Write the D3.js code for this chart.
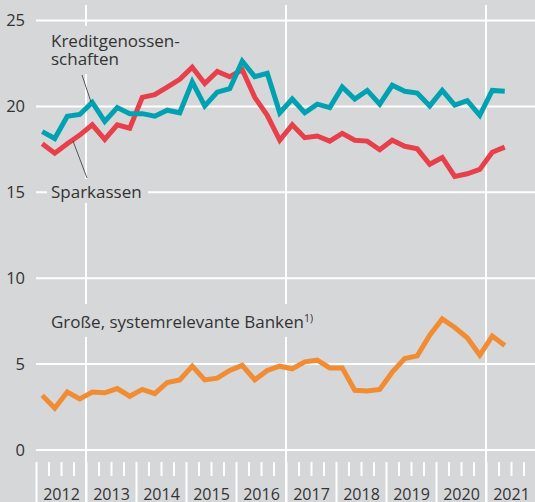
<!DOCTYPE html>
<html><head><meta charset="utf-8">
<script src="https://cdn.jsdelivr.net/npm/d3@7"></script>
<style>
html,body{margin:0;padding:0;background:#d6d7d9;}
svg{display:block;}
text{font-family:"Open Sans","Noto Sans",sans-serif;fill:#333;}
</style></head>
<body>
<svg id="c" width="535" height="502"></svg>
<script>
const years = [2012,2013,2014,2015,2016,2017,2018,2019,2020,2021];
const yTicks = [0,5,10,15,20,25];
const kreditgenossenschaften = [18.5,18.1,19.4,19.5,20.2,19.1,19.9,19.55,19.55,19.4,19.75,19.6,21.4,20.0,20.8,21.0,22.6,21.7,21.9,19.6,20.4,19.6,20.1,19.9,21.1,20.4,20.9,20.1,21.2,20.85,20.75,20.0,20.9,20.05,20.3,19.45,20.9,20.85];
const sparkassen = [17.8,17.25,17.8,18.3,18.9,18.05,18.9,18.7,20.5,20.65,21.1,21.55,22.25,21.3,22.0,21.7,22.1,20.5,19.45,18.0,18.9,18.15,18.25,17.95,18.4,18.0,17.95,17.45,18.0,17.65,17.5,16.6,17.0,15.9,16.05,16.3,17.3,17.6];
const grosseBanken = [3.15,2.4,3.35,2.95,3.35,3.3,3.55,3.1,3.5,3.25,3.9,4.05,4.85,4.05,4.15,4.6,4.9,4.05,4.6,4.85,4.7,5.1,5.2,4.75,4.75,3.45,3.4,3.5,4.5,5.3,5.45,6.65,7.6,7.1,6.5,5.5,6.6,6.05];
const gridYears = [2013,2017,2021];

const bg = "#d6d7d9";
const svg = d3.select("#c");
const x = d3.scaleLinear().domain([2012,2022]).range([36,536]);
const y = d3.scaleLinear().domain([0,25]).range([449.5,20]);
const t = i => 2012 + (i+0.5)/4;

svg.append("rect").attr("width",535).attr("height",502).attr("fill",bg);

// horizontal gridlines + y labels
const ya = svg.append("g").attr("transform","translate(36,0)")
  .call(d3.axisLeft(y).tickValues(yTicks).tickSize(-500).tickPadding(11));
ya.select(".domain").remove();
ya.selectAll("line").attr("stroke","#fff").attr("stroke-width",2);
ya.selectAll("text").style("font-size","16.5px").attr("fill","#333").attr("dy","0.35em");

// vertical gridlines
svg.append("g").selectAll("line").data(gridYears).join("line")
  .attr("x1",d=>x(d)).attr("x2",d=>x(d)).attr("y1",5).attr("y2",502)
  .attr("stroke","#fff").attr("stroke-width",2);

// quarterly ticks
const quarters = d3.range(2012,2022,0.25).filter(q=>q%1!==0);
const qa = svg.append("g").attr("transform","translate(0,462)")
  .call(d3.axisBottom(x).tickValues(quarters).tickSize(14).tickFormat(""));
qa.select(".domain").remove();
qa.selectAll("line").attr("stroke","#fff").attr("stroke-width",2);
// year boundary ticks
const ba = svg.append("g").attr("transform","translate(0,462)")
  .call(d3.axisBottom(x).tickValues(years).tickSize(40).tickFormat(""));
ba.select(".domain").remove();
ba.selectAll("line").attr("stroke","#fff").attr("stroke-width",2);
// year labels
const la = svg.append("g").attr("transform","translate(0,487)")
  .call(d3.axisBottom(x).tickValues(years.map(v=>v+0.5)).tickSize(0).tickPadding(0).tickFormat(d=>String(Math.floor(d))));
la.select(".domain").remove();
la.selectAll("text").style("font-size","16px").attr("fill","#333").attr("dy","0.8em");

// label backgrounds
svg.append("rect").attr("x",47).attr("y",26).attr("width",150).attr("height",48).attr("fill",bg);
svg.append("rect").attr("x",47).attr("y",179).attr("width",101).attr("height",24).attr("fill",bg);
svg.append("rect").attr("x",47).attr("y",304).attr("width",285).attr("height",33).attr("fill",bg);

// lines
const line = d3.line().x((d,i)=>x(t(i))).y(d=>y(d));
function draw(data,color){
  svg.append("path").datum(data).attr("d",line).attr("fill","none")
    .attr("stroke",color).attr("stroke-width",5).attr("stroke-linejoin","miter");
}
draw(grosseBanken,"#f28c32");
draw(sparkassen,"#e8404a");
draw(kreditgenossenschaften,"#00a1b1");

// leader lines
svg.append("line").attr("x1",82).attr("y1",75).attr("x2",91).attr("y2",102).attr("stroke","#333").attr("stroke-width",0.8);
svg.append("line").attr("x1",73).attr("y1",141).attr("x2",87).attr("y2",178).attr("stroke","#333").attr("stroke-width",0.8);

// labels
const lab = svg.append("g").style("font-size","17px").style("font-weight","500");
lab.append("text").attr("x",51).attr("y",47).text("Kreditgenossen-");
lab.append("text").attr("x",51).attr("y",65).text("schaften");
lab.append("text").attr("x",51).attr("y",198).text("Sparkassen");
const g = lab.append("text").attr("x",51).attr("y",328);
g.append("tspan").text("Große, systemrelevante Banken");
g.append("tspan").attr("dy",-6).style("font-size","10.5px").text("1)");
</script>
</body></html>
